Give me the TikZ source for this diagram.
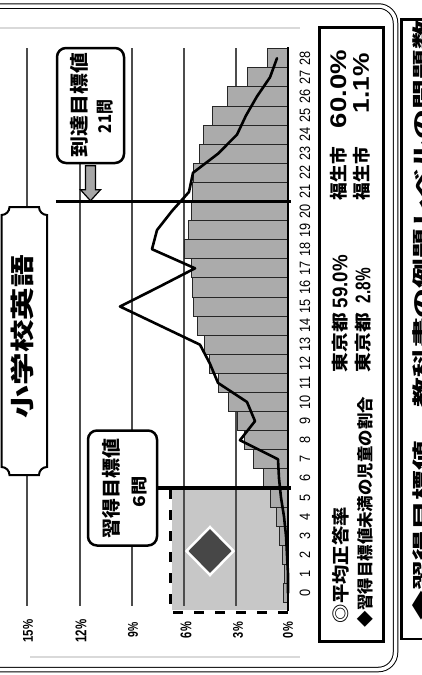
\documentclass[tikz,border=0pt]{standalone}
\usepackage{fontspec}
\usetikzlibrary{shapes.geometric}
\newfontfamily\jp{Noto Sans CJK JP}
\newfontfamily\lib{Liberation Sans}
\newcommand{\fitt}[3]{\resizebox*{#1pt}{#2pt}{#3}}
\newcommand{\axn}[1]{\scalebox{0.85}[1]{\fontsize{15}{15}\selectfont\lib #1}}
\begin{document}
\begin{tikzpicture}[x=1pt,y=-1pt,
  rt/.style={rotate=90, inner sep=0pt, outer sep=0pt},
  gridln/.style={draw=black!70, line width=1.1pt},
  barbox/.style={fill=black!33, draw=black!85, line width=0.8pt},
  goalline/.style={line width=3.5pt, draw=black},
  lbox/.style={draw=black, line width=2.5pt, rounded corners=9pt, fill=white, inner sep=0pt},
  arrowsty/.style={fill=black!35, draw=black, line width=1.2pt, line join=miter},
  dashbox/.style={draw=black, line width=3pt, dash pattern=on 10pt off 11pt},
  dataline/.style={draw=black, line width=2.6pt, line join=round, line cap=round}]
\useasboundingbox (0,0) rectangle (422,675);
\clip (0,0) rectangle (422,675);
\fill[white] (0,0) rectangle (422,675);
% faint plot border
\draw[black!15, line width=1.5pt] (0,28) -- (300,28);
\draw[black!15, line width=1.5pt] (30,657) -- (300,657);
% light gray target region
\fill[black!22] (172,490) rectangle (288,610);
% gridlines
\foreach \gx in {27,80,132,184,236} \draw[gridln] (\gx,48) -- (\gx,606);
% bars
\foreach \i/\l in {0/283,1/284,2/282,3/279,4/276,5/270,6/263,7/253,8/244,9/237,10/228,11/218,12/209,13/204,14/197,15/193,16/192,17/191,18/184,19/188,20/191,21/192,22/193,23/199,24/203,25/212,26/227,27/247,28/267}
  \draw[barbox] (\l,{593-19.1*\i-9.55}) rectangle (288,{593-19.1*\i+9.55});
% axis
\coordinate (axtop) at (288,47);
\coordinate (axbot) at (288,611);
\draw[black, line width=1.6pt] (axtop) -- (axbot);
% dashed region
\coordinate (dsa) at (170,489);
\coordinate (dsb) at (170,612);
\coordinate (dsc) at (289,612);
\draw[dashbox] (dsa) -- (dsb) -- (dsc);
% labelled boxes
\node[lbox, minimum width=67pt, minimum height=115pt] (box21) at (90.5,105.5) {};
\node[rt] (t21a) at (79,105) {\fitt{104}{18}{\jp\bfseries 到達目標値}};
\node[rt] (t21b) at (105,116.5) {\fitt{33}{16}{\jp\bfseries 21問}};
\node[lbox, minimum width=69pt, minimum height=115pt] (box6) at (122.5,488) {};
\node[rt] (t6a) at (111,488) {\fitt{100}{18}{\jp\bfseries 習得目標値}};
\node[rt] (t6b) at (139.5,492) {\fitt{31}{15}{\jp\bfseries 6問}};
% goal lines
\coordinate (g21) at (291,201.5);
\coordinate (g6) at (291,488);
\draw[goalline] (box21.south west |- g21) -- (g21);
\draw[goalline] (box6.east) -- (g6);
% arrow from box21 to goal line
\draw[arrowsty] (box21.south) ++(-5,1.5) -- ++(10,0) -- ++(0,24) -- ++(5,0) -- ++(-10,11) -- ++(-10,-11) -- ++(5,0) -- cycle;
% data line
\draw[dataline] plot coordinates {(288,593) (288,573.9) (287,554.8) (286,535.7) (284,516.6) (281,497.5) (279,478.4) (278,459.3) (240,440.2) (255,421.1) (247,402) (218,382.9) (210,363.8) (200,344.7) (160,325.6) (120,306.5) (158,287.4) (195,268.3) (152,249.2) (157,230.1) (172,211) (189,191.9) (193,172.8) (218,153.7) (237,134.6) (246,115.5) (257,96.4) (270,77.3) (277,58.2)};
% diamond marker
\node[diamond, fill=black!72, draw=white, line width=2.5pt, minimum width=48pt, minimum height=49pt, inner sep=0pt] (dia) at (210,551) {};
% title box with concave corners
\draw[line width=2pt, fill=white] (1.5,215) arc[start angle=90, end angle=0, radius=8] -- (39,207) arc[start angle=180, end angle=90, radius=8] -- (47,467) arc[start angle=270, end angle=180, radius=8] -- (9.5,475) arc[start angle=0, end angle=-90, radius=8] -- cycle;
\node[rt] (title) at (22,336.5) {\fitt{163}{23}{\jp\bfseries 小学校英語}};
% percent labels
\node[rt] (p15) at (28,631) {\fitt{23}{10}{\lib\bfseries 15\%}};
\node[rt] (p12) at (81,631) {\fitt{23}{11}{\lib\bfseries 12\%}};
\node[rt] (p9) at (133,630) {\fitt{15}{10}{\lib\bfseries 9\%}};
\node[rt] (p6) at (186,630) {\fitt{16}{11}{\lib\bfseries 6\%}};
\node[rt] (p3) at (238,630) {\fitt{16}{10}{\lib\bfseries 3\%}};
\node[rt] (p0) at (288,630) {\fitt{16}{10}{\lib\bfseries 0\%}};
% axis numbers
\foreach \i in {0,...,28} \node[rt] (n\i) at (305,{593-19.1*\i}) {\axn{\i}};
% legend
\node[draw=black, line width=3pt, minimum width=64pt, minimum height=614pt, inner sep=0pt] (leg) at (351,334) {};
\node[rt] (lg1a) at (340.5,565) {\fitt{116}{17}{\jp\bfseries ◎平均正答率}};
\node[rt] (lg1b) at (340,342.5) {\fitt{59}{16}{\jp\bfseries 東京都}};
\node[rt] (lg1c) at (340,281.5) {\fitt{53}{15}{\lib\bfseries 59.0\%}};
\node[rt] (lg1d) at (338.5,173.5) {\fitt{53}{17}{\jp\bfseries 福生市}};
\node[rt] (lg1e) at (338.5,89) {\fitt{78}{16}{\lib\bfseries 60.0\%}};
\node[rt] (lg2a) at (365,512) {\fitt{230}{16}{\jp\bfseries ◆習得目標値未満の児童の割合}};
\node[rt] (lg2b) at (363.5,342.5) {\fitt{59}{16}{\jp\bfseries 東京都}};
\node[rt] (lg2c) at (363,285.5) {\fitt{35}{15}{\lib\bfseries 2.8\%}};
\node[rt] (lg2d) at (361.5,173.5) {\fitt{53}{17}{\jp\bfseries 福生市}};
\node[rt] (lg2e) at (361,83) {\fitt{60}{16}{\lib\bfseries 1.1\%}};
% outer frame
\draw[double, double distance=3.5pt, line width=1pt, rounded corners=17pt] (-20,6) rectangle (395.5,669.5);
% right panel
\draw[line width=2.5pt] (401.5,19.5) rectangle (450,639);
\node[rt] (rp) at (421,320) {\fitt{600}{18}{\jp\bfseries ◆習得目標値…教科書の例題レベルの問題数}};
\end{tikzpicture}
\end{document}
